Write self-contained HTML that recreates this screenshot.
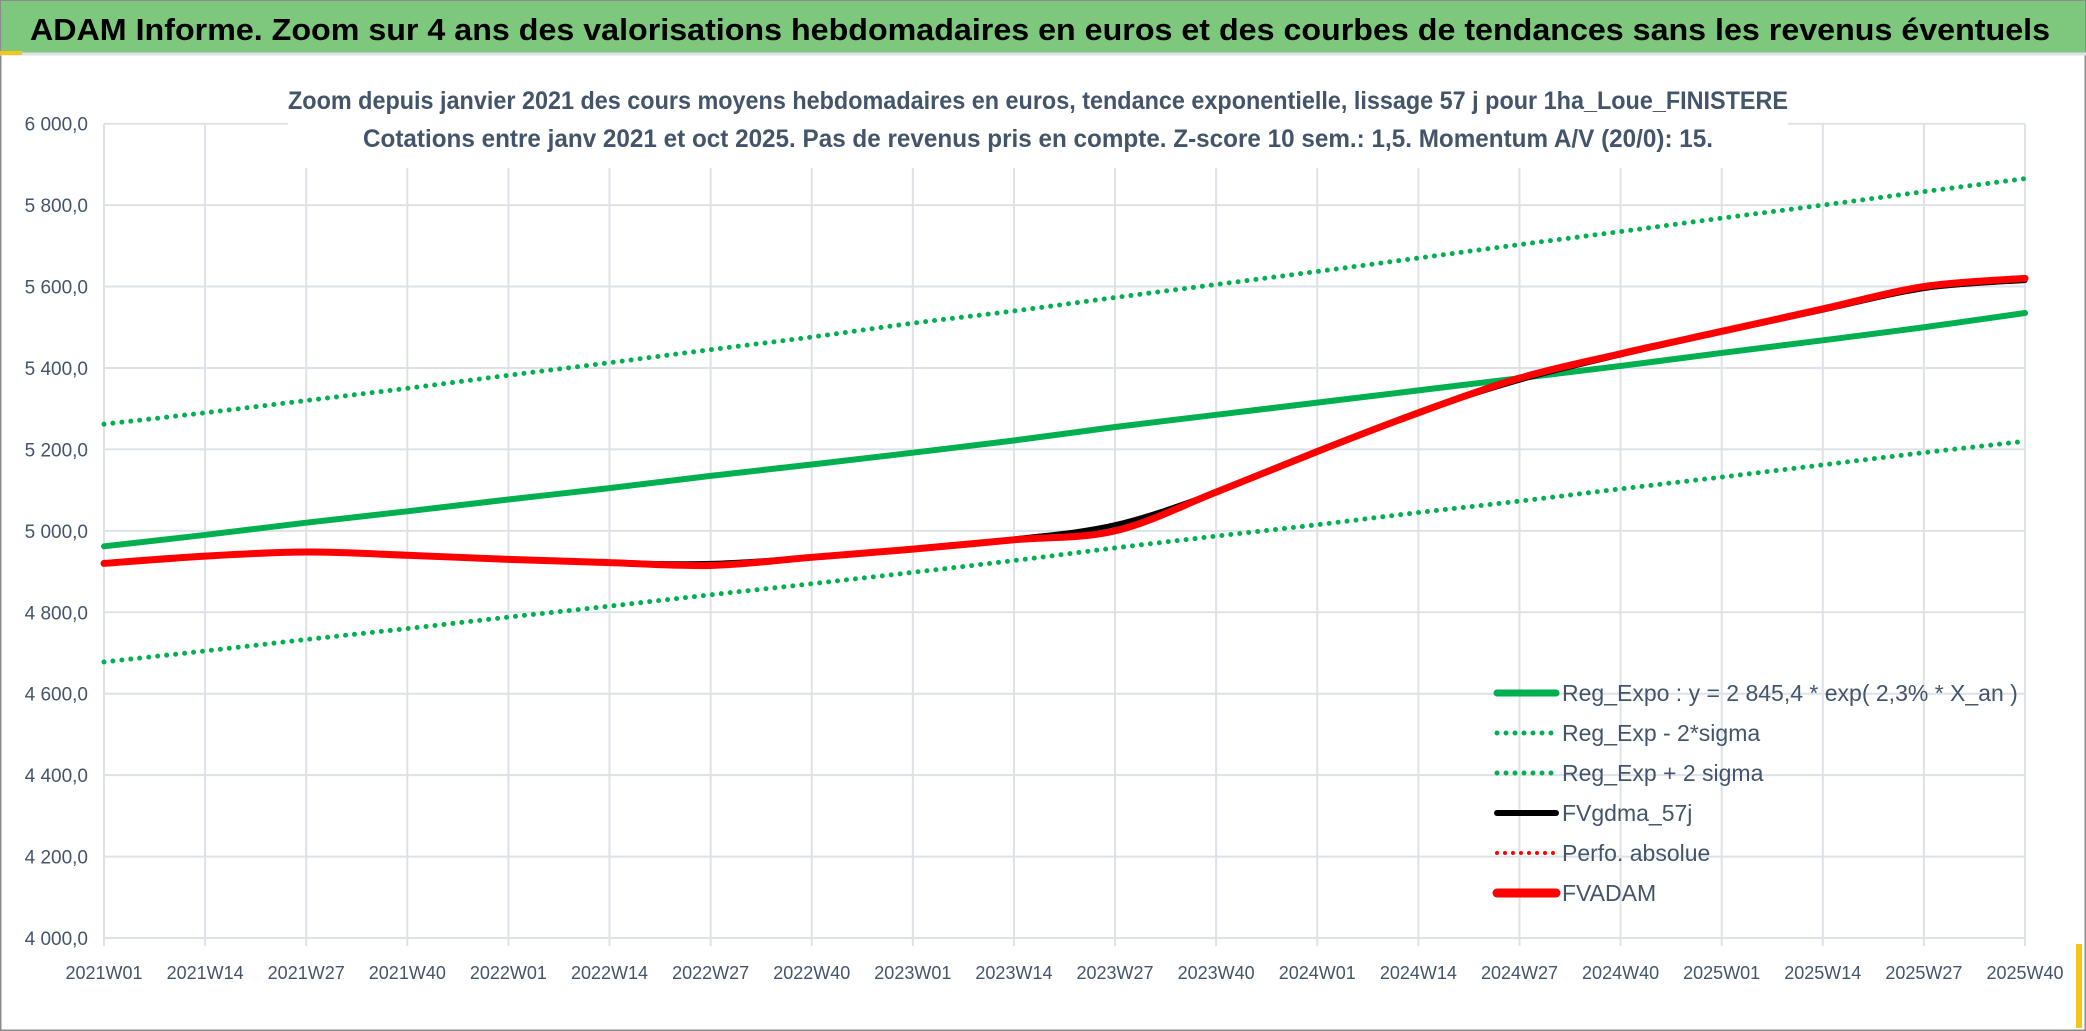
<!DOCTYPE html>
<html><head><meta charset="utf-8"><style>
html,body{margin:0;padding:0;background:#fff;}
svg{display:block;font-family:"Liberation Sans",sans-serif;}
</style></head><body>
<svg id="chart" width="2086" height="1031" viewBox="0 0 2086 1031">
<rect x="0" y="0" width="2086" height="1031" fill="#fff" stroke="#8c8c8c" stroke-width="3"/>
<rect x="1" y="1" width="2084" height="52" fill="#7dc87d"/>
<line x1="0" y1="54" x2="2086" y2="54" stroke="#dde1e8" stroke-width="3"/>
<rect x="0" y="51" width="22" height="4" fill="#f5c518"/>
<rect x="2076" y="944" width="6" height="84" fill="#f5c518"/>
<text x="30" y="40" font-size="31" font-weight="bold" fill="#000" textLength="2020" lengthAdjust="spacingAndGlyphs">ADAM Informe. Zoom sur 4 ans des valorisations hebdomadaires en euros et des courbes de tendances sans les revenus éventuels</text>
<g id="grid"></g>
<rect x="288" y="78" width="1500" height="90" fill="#fff"/>
<text x="1038" y="109" font-size="25" font-weight="bold" fill="#44546a" text-anchor="middle" textLength="1500" lengthAdjust="spacingAndGlyphs">Zoom depuis janvier 2021 des cours moyens hebdomadaires en euros, tendance exponentielle, lissage 57 j pour 1ha_Loue_FINISTERE</text>
<text x="1038" y="147" font-size="25" font-weight="bold" fill="#44546a" text-anchor="middle" textLength="1350" lengthAdjust="spacingAndGlyphs">Cotations entre janv 2021 et oct 2025. Pas de revenus pris en compte. Z-score 10 sem.: 1,5. Momentum A/V (20/0): 15.</text>
<g id="series"></g>
<g id="legend"></g>
</svg>
<script>
const categories=["2021W01","2021W14","2021W27","2021W40","2022W01","2022W14","2022W27","2022W40","2023W01","2023W14","2023W27","2023W40","2024W01","2024W14","2024W27","2024W40","2025W01","2025W14","2025W27","2025W40"];
const yTicks=[4000,4200,4400,4600,4800,5000,5200,5400,5600,5800,6000];
const regExpo=[4962,4990,5020,5048,5077,5105,5135,5163,5192,5222,5255,5285,5315,5345,5375,5405,5437,5468,5500,5535];
const regPlus=[5262,5290,5320,5350,5382,5413,5445,5476,5510,5540,5573,5605,5637,5670,5703,5735,5768,5800,5833,5865];
const regMinus=[4678,4705,4733,4760,4788,4815,4843,4870,4898,4927,4958,4987,5015,5045,5073,5103,5132,5162,5192,5220];
const fvgdma=[4920,4938,4948,4940,4930,4922,4920,4935,4955,4980,5015,5095,5195,5290,5370,5432,5488,5542,5595,5615];
const fvadam=[4920,4938,4948,4940,4930,4922,4915,4935,4955,4978,5000,5095,5195,5290,5375,5435,5490,5545,5600,5620];
const legendLabels=["Reg_Expo : y = 2 845,4 * exp( 2,3% *  X_an )","Reg_Exp - 2*sigma","Reg_Exp + 2 sigma","FVgdma_57j","Perfo. absolue","FVADAM"];

const NS="http://www.w3.org/2000/svg";
const L=104,R=2025,T=123.7,B=938;
const x=i=>L+(R-L)*i/(categories.length-1);
const y=v=>B-(v-4000)/2000*(B-T);
function el(tag,attrs,parent){const e=document.createElementNS(NS,tag);for(const k in attrs)e.setAttribute(k,attrs[k]);parent.appendChild(e);return e;}
const grid=document.getElementById('grid');
yTicks.forEach(v=>{
  const ln=el('line',{x1:L,x2:R,y1:y(v),y2:y(v),stroke:'#dde1e8','stroke-width':2},grid);
  
  
  const t=el('text',{x:88,y:y(v)+7,'font-size':19,fill:'#44546a','text-anchor':'end'},grid);
  t.textContent=v.toLocaleString('fr-FR').replace(/\s/g,' ')+',0';
  t.textContent=(v>=1000?Math.floor(v/1000)+' '+String(v%1000).padStart(3,'0'):v)+',0';
  
  
});
categories.forEach((c,i)=>{
  const ln=el('line',{x1:x(i),x2:x(i),y1:T,y2:B+8,stroke:'#dde1e8','stroke-width':2},grid);
  
  
  const t=el('text',{x:x(i),y:979,'font-size':18,fill:'#44546a','text-anchor':'middle'},grid);
  t.textContent=c;
  
  
});
function path(vals){
  const p=vals.map((v,i)=>[x(i),y(v)]);
  let d='M'+p[0][0]+','+p[0][1];
  for(let i=0;i<p.length-1;i++){
    const p0=p[Math.max(0,i-1)],p1=p[i],p2=p[i+1],p3=p[Math.min(p.length-1,i+2)];
    const c1=[p1[0]+(p2[0]-p0[0])/6,p1[1]+(p2[1]-p0[1])/6],c2=[p2[0]-(p3[0]-p1[0])/6,p2[1]-(p3[1]-p1[1])/6];
    d+=' C'+c1+' '+c2+' '+p2;
  }
  return d;
}
const S=document.getElementById('series');
const defs=[
 [regExpo,'#00b050',6,null,'reg-expo-line'],
 [regMinus,'#00b050',5,'0 9','reg-minus-2sigma-line'],
 [regPlus,'#00b050',5,'0 9','reg-plus-2sigma-line'],
 [fvgdma,'#000',5,null,'fvgdma-line'],
 [fvadam,'#ff0000',7,null,'fvadam-line']
];
defs.forEach(d=>{
  const a={d:path(d[0]),fill:'none',stroke:d[1],'stroke-width':d[2],'stroke-linecap':'round'};
  if(d[3])a['stroke-dasharray']=d[3];
  const p=el('path',a,S);
  
  
});
const LG=document.getElementById('legend');
const lstyles=[['#00b050',7,null],['#00b050',5,'0 9'],['#00b050',5,'0 9'],['#000',6,null],['#ff0000',4,'0 8'],['#ff0000',9,null]];
legendLabels.forEach((lab,i)=>{
  const yy=693+i*40;
  const g=el('g',{},LG);
  
  
  const s=lstyles[i];
  const a={x1:1497,x2:1556,y1:yy,y2:yy,stroke:s[0],'stroke-width':s[1],'stroke-linecap':'round'};
  if(s[2])a['stroke-dasharray']=s[2];
  el('line',a,g);
  const t=el('text',{x:1562,y:yy+8,'font-size':23,fill:'#44546a'},g);
  t.textContent=lab;
});
</script>
</body></html>
